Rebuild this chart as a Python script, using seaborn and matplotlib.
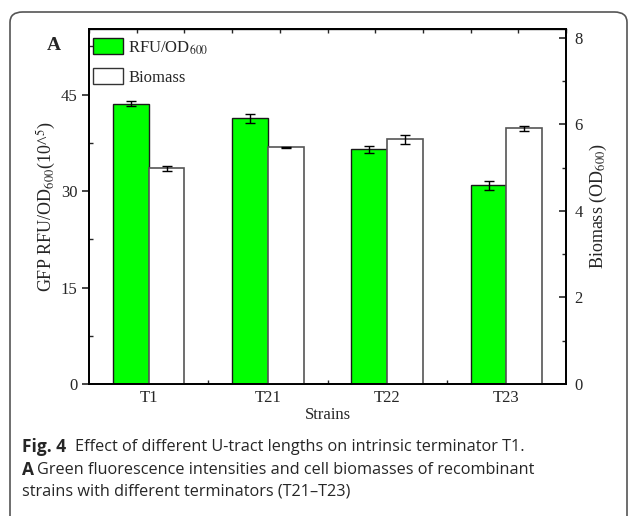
import numpy as np
import pandas as pd
import matplotlib
matplotlib.use("Agg")
import matplotlib.pyplot as plt
from matplotlib.patches import Patch, FancyBboxPatch
import seaborn as sns

# Data
strains = ["T1", "T21", "T22", "T23"]
rfu = [43.6, 41.3, 36.5, 30.9]
rfu_err = [0.45, 0.7, 0.55, 0.7]
biomass = [4.98, 5.47, 5.65, 5.91]
biomass_err = [0.05, 0.01, 0.1, 0.06]
series = ["RFU", "Biomass"]

df_rfu = pd.DataFrame({"Strain": strains, "Series": "RFU", "Value": rfu})
df_bio = pd.DataFrame({"Strain": strains, "Series": "Biomass", "Value": biomass})

sns.set_style("ticks")
plt.rcParams["font.family"] = ["Liberation Serif", "DejaVu Serif"]
plt.rcParams["mathtext.fontset"] = "stix"

fig = plt.figure(figsize=(6.29, 5.16), dpi=100)
ax = fig.add_axes([0.1415, 0.2558, 0.7585, 0.688])
ax2 = ax.twinx()

pal = {"RFU": "#00ff00", "Biomass": "white"}
# green bars on the left axis, white bars on the right axis
sns.barplot(data=df_rfu, x="Strain", y="Value", hue="Series", hue_order=series,
            palette=pal, saturation=1, width=0.6, dodge=True,
            edgecolor="#1a1a1a", linewidth=1, legend=False, ax=ax, order=strains)
sns.barplot(data=df_bio, x="Strain", y="Value", hue="Series", hue_order=series,
            palette=pal, saturation=1, width=0.6, dodge=True,
            edgecolor="#555555", linewidth=1.2, legend=False, ax=ax2, order=strains)

# error bars at the drawn bar centers
for bars, vals, errs, a in [(ax.containers[0], rfu, rfu_err, ax),
                            (ax2.containers[-1], biomass, biomass_err, ax2)]:
    xs = [b.get_x() + b.get_width() / 2 for b in bars]
    a.errorbar(xs, vals, yerr=errs, fmt="none", ecolor="black",
               elinewidth=1, capsize=3.5, capthick=1)

ax.set_xlim(-0.5, 3.5)
ax.set_ylim(0, 55.2)
ax2.set_ylim(0, 8.2)

ax.set_yticks([0, 15, 30, 45])
ax.set_yticks([7.5, 22.5, 37.5, 52.5], minor=True)
ax2.set_yticks([0, 2, 4, 6, 8])
ax2.set_yticks([1, 3, 5, 7], minor=True)
ax.set_xticks(range(4))
ax.set_xticklabels(strains)
ax.set_xticks([0.5, 1.5, 2.5], minor=True)

ax.tick_params(axis="y", which="major", direction="out", length=5, width=1.2, labelsize=12)
ax.tick_params(axis="y", which="minor", direction="in", length=3, width=1)
ax.tick_params(axis="x", which="major", length=0, labelsize=12, pad=4)
ax.tick_params(axis="x", which="minor", direction="in", length=3, width=1)
ax2.tick_params(axis="y", which="major", direction="in", length=5, width=1.2, labelsize=12, pad=6)
ax2.tick_params(axis="y", which="minor", direction="in", length=3, width=1)

top = ax.secondary_xaxis("top")
top.set_xticks(np.linspace(-0.5, 3.5, 11))
top.set_xticklabels([])
top.tick_params(direction="in", length=3, width=1)

for a in (ax, ax2):
    for s in a.spines.values():
        s.set_linewidth(1.3)
        s.set_color("black")
top.spines["top"].set_linewidth(1.0)

ax.set_xlabel("Strains", fontsize=12, labelpad=1)
ax.set_ylabel("GFP RFU/OD$_{600}$(10^$^{5}$)", fontsize=13, labelpad=2)
ax2.set_ylabel("Biomass (OD$_{600}$)", fontsize=13, labelpad=4)

handles = [Patch(facecolor="#00ff00", edgecolor="#1a1a1a", label="RFU/OD$_{600}$"),
           Patch(facecolor="white", edgecolor="#333333", label="Biomass")]
ax.legend(handles=handles, loc="upper left", bbox_to_anchor=(0.0, 0.985), frameon=False,
          fontsize=12, handlelength=1.8, handleheight=1.1, handletextpad=0.3,
          labelspacing=0.7, borderaxespad=0, borderpad=0.25)

fig.text(47 / 629, 1 - 45 / 516, "A", fontsize=14, fontweight="bold", va="center")

# rounded panel frame
frame = FancyBboxPatch((10 / 629, -0.2), 617 / 629, 1.2 - 12 / 516,
                       boxstyle="round,pad=0,rounding_size=0.02",
                       transform=fig.transFigure, facecolor="none",
                       edgecolor="#555555", linewidth=1.2, clip_on=False)
fig.add_artist(frame)

# caption
fig.text(22 / 629, 1 - 447 / 516, "Fig. 4", fontsize=12.5, va="center",
         family="Open Sans", fontweight="bold")
fig.text(75 / 629, 1 - 447 / 516, "Effect of different U-tract lengths on intrinsic terminator T1.",
         fontsize=11.7, va="center", family="Open Sans")
fig.text(22 / 629, 1 - 470 / 516, "A", fontsize=12.5, va="center", family="Open Sans",
         fontweight="bold")
fig.text(37 / 629, 1 - 470 / 516, "Green fluorescence intensities and cell biomasses of recombinant",
         fontsize=11.7, va="center", family="Open Sans")
fig.text(22 / 629, 1 - 492 / 516, "strains with different terminators (T21\u2013T23)",
         fontsize=11.7, va="center", family="Open Sans")

fig.savefig("out.png", dpi=100)
